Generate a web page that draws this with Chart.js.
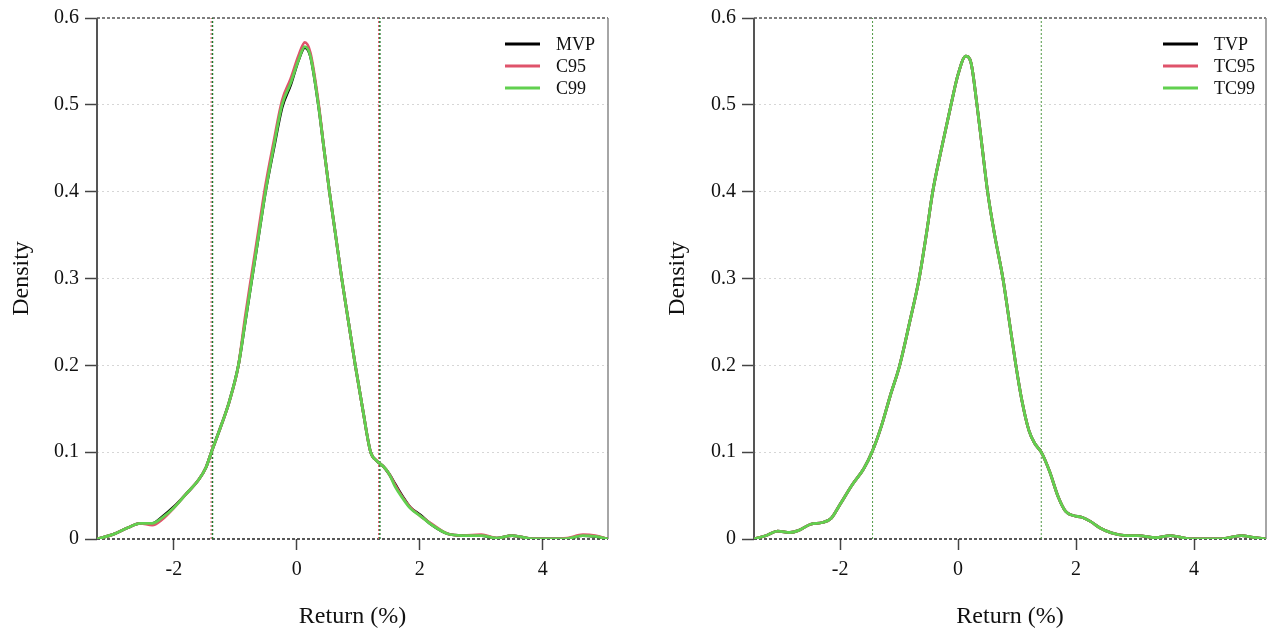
<!DOCTYPE html>
<html>
<head>
<meta charset="utf-8">
<script src="https://cdn.jsdelivr.net/npm/chart.js@4.4.1/dist/chart.umd.min.js"></script>
<style>
  html, body { margin: 0; padding: 0; background: #fff; }
  #left { position: absolute; left: 0; top: 0; }
  #right { position: absolute; left: 640px; top: 0; }
</style>
</head>
<body>
<canvas id="left" width="640" height="638"></canvas>
<canvas id="right" width="637" height="638"></canvas>
<script>
// ---- data ----
const xTicks = [-2, 0, 2, 4];
const yTicks = [0, 0.1, 0.2, 0.3, 0.4, 0.5, 0.6];

// left panel: MVP / C95 / C99
const leftX = [-3.25, -3.0, -2.75, -2.55, -2.35, -2.2, -2.0, -1.8, -1.6, -1.48, -1.39, -1.25, -1.1, -0.95, -0.84, -0.73, -0.62, -0.51, -0.38, -0.24, -0.1, 0.03, 0.13, 0.22, 0.35, 0.44, 0.53, 0.63, 0.73, 0.84, 0.95, 1.07, 1.2, 1.3, 1.4, 1.5, 1.6, 1.72, 1.85, 2.0, 2.2, 2.45, 2.7, 3.0, 3.25, 3.5, 3.8, 4.1, 4.4, 4.65, 4.85, 5.06];
const c99Y = [0, 0.005, 0.013, 0.018, 0.018, 0.024, 0.036, 0.052, 0.068, 0.082, 0.1, 0.127, 0.158, 0.2, 0.25, 0.3, 0.35, 0.4, 0.45, 0.5, 0.525, 0.552, 0.567, 0.556, 0.5, 0.45, 0.4, 0.35, 0.3, 0.25, 0.2, 0.15, 0.1, 0.09, 0.084, 0.075, 0.06, 0.047, 0.035, 0.027, 0.016, 0.006, 0.004, 0.004, 0.001, 0.004, 0.0005, 0, 0.0005, 0.004, 0.003, 0];
const c95Y = [0, 0.005, 0.013, 0.018, 0.016, 0.022, 0.036, 0.052, 0.068, 0.082, 0.1, 0.127, 0.158, 0.2, 0.256, 0.307, 0.357, 0.407, 0.456, 0.505, 0.53, 0.557, 0.572, 0.56, 0.503, 0.45, 0.4, 0.35, 0.3, 0.25, 0.2, 0.15, 0.1, 0.09, 0.084, 0.075, 0.062, 0.048, 0.036, 0.027, 0.017, 0.006, 0.004, 0.005, 0.001, 0.004, 0.0005, 0, 0.001, 0.005, 0.004, 0];
const mvpY = [0, 0.005, 0.013, 0.018, 0.018, 0.025, 0.037, 0.052, 0.068, 0.082, 0.1, 0.127, 0.158, 0.2, 0.25, 0.3, 0.35, 0.4, 0.448, 0.497, 0.523, 0.552, 0.566, 0.556, 0.5, 0.45, 0.4, 0.35, 0.3, 0.25, 0.2, 0.15, 0.1, 0.09, 0.084, 0.075, 0.063, 0.049, 0.036, 0.028, 0.016, 0.006, 0.004, 0.004, 0.001, 0.004, 0.0005, 0, 0.0005, 0.004, 0.003, 0];
const leftVaR95 = [-1.395, 1.329];
const leftVaR99 = [-1.372, 1.35];

// right panel: TVP / TC95 / TC99 (curves coincide)
const rightX = [-3.46, -3.25, -3.06, -2.85, -2.7, -2.5, -2.3, -2.15, -2.0, -1.8, -1.6, -1.46, -1.3, -1.15, -0.99, -0.82, -0.66, -0.54, -0.43, -0.28, -0.12, 0.0, 0.13, 0.22, 0.32, 0.41, 0.5, 0.62, 0.76, 0.87, 0.98, 1.08, 1.2, 1.3, 1.41, 1.55, 1.7, 1.82, 1.95, 2.1, 2.25, 2.4, 2.6, 2.85, 3.05, 3.35, 3.6, 3.9, 4.2, 4.5, 4.8, 5.0, 5.22];
const tc99Y = [0, 0.004, 0.009, 0.0075, 0.01, 0.017, 0.019, 0.024, 0.04, 0.062, 0.081, 0.1, 0.13, 0.165, 0.2, 0.25, 0.3, 0.35, 0.4, 0.45, 0.5, 0.535, 0.556, 0.548, 0.5, 0.45, 0.4, 0.35, 0.3, 0.25, 0.2, 0.16, 0.125, 0.11, 0.1, 0.078, 0.048, 0.032, 0.027, 0.025, 0.02, 0.013, 0.007, 0.004, 0.004, 0.0015, 0.004, 0.0005, 0, 0.0005, 0.004, 0.002, 0];
const tc95Y = tc99Y.slice();
const tvpY = tc99Y.slice();
const rightVaR = [-1.45, 1.41];

const FONT = '"Liberation Serif", "Times New Roman", serif';
Chart.defaults.font.family = FONT;
Chart.defaults.color = '#111';

const BLACK = '#000000', PINK = '#DF536B', GREEN = '#61D04F';

function pts(xs, ys) {
    return xs.map((x, i) => ({ x: x, y: ys[i] }));
}

function curve(label, xs, ys, color, order) {
    return {
        label, data: pts(xs, ys), borderColor: color, backgroundColor: color,
        borderWidth: 2.8, pointRadius: 0, cubicInterpolationMode: 'monotone', order
    };
}

function vline(v, color, width, order) {
    return {
        label: '', guide: true, data: [{ x: v, y: 0 }, { x: v, y: 0.6 }],
        borderColor: color, borderWidth: width, borderDash: [2, 2], pointRadius: 0, order: order
    };
}

// box around the plot: dashed top/bottom, solid sides
const framePlugin = {
    id: 'frame',
    beforeDatasetsDraw(chart) {
        const { ctx, chartArea: a } = chart;
        const seg = (x1, y1, x2, y2) => { ctx.beginPath(); ctx.moveTo(x1, y1); ctx.lineTo(x2, y2); ctx.stroke(); };
        ctx.save();
        ctx.lineWidth = 1.5;
        ctx.setLineDash([3, 2]);
        ctx.strokeStyle = '#555';
        seg(a.left, a.top, a.right, a.top);
        ctx.strokeStyle = '#222';
        seg(a.left, a.bottom, a.right, a.bottom);
        ctx.setLineDash([]);
        ctx.strokeStyle = '#888';
        seg(a.right, a.top, a.right, a.bottom);
        ctx.lineWidth = 2;
        ctx.strokeStyle = '#555';
        seg(a.left, a.top, a.left, a.bottom);
        ctx.restore();
    }
};

const legendPlugin = {
    id: 'lineLegend',
    afterDraw(chart) {
        const { ctx, chartArea: a } = chart;
        const items = chart.data.datasets.filter(d => !d.guide);
        ctx.save();
        ctx.font = '18px ' + FONT;
        ctx.textBaseline = 'middle';
        ctx.fillStyle = '#111';
        items.forEach((d, i) => {
            const y = 44 + i * 22;
            ctx.strokeStyle = d.borderColor;
            ctx.lineWidth = 3;
            ctx.beginPath();
            ctx.moveTo(a.right - 103, y);
            ctx.lineTo(a.right - 68, y);
            ctx.stroke();
            ctx.fillText(d.label, a.right - 52, y + 1);
        });
        ctx.restore();
    }
};

function makeChart(id, datasets, xMin, xMax, yAxisWidth, rightPad, titlePad) {
    return new Chart(document.getElementById(id), {
        type: 'line',
        data: { datasets },
        options: {
            responsive: false,
            animation: false,
            layout: { padding: { top: 17, right: rightPad, left: 0, bottom: 0 } },
            plugins: { legend: { display: false }, tooltip: { enabled: false } },
            scales: {
                x: {
                    type: 'linear', min: xMin, max: xMax,
                    afterBuildTicks: s => { s.ticks = xTicks.map(v => ({ value: v })); },
                    grid: { drawOnChartArea: false, tickLength: 11, tickColor: '#444', tickWidth: 1.5 },
                    border: { display: false },
                    ticks: { font: { size: 20 }, padding: 8, maxRotation: 0 },
                    title: { display: true, text: 'Return (%)', font: { size: 24 }, padding: { top: 0, bottom: 7 } },
                    afterFit: s => { s.height = 99; }
                },
                y: {
                    min: 0, max: 0.6,
                    afterBuildTicks: s => { s.ticks = yTicks.map(v => ({ value: v })); },
                    ticks: { font: { size: 20 }, padding: 6, callback: v => v === 0 ? '0' : v.toFixed(1) },
                    grid: {
                        color: c => (c.tick && (c.tick.value < 1e-6 || c.tick.value > 0.599)) ? 'rgba(0,0,0,0)' : '#d6d6d6',
                        lineWidth: 1, tickLength: 12, tickColor: '#444', tickWidth: 1.5
                    },
                    border: { display: false, dash: [2, 3] },
                    title: { display: true, text: 'Density', font: { size: 24 }, padding: { top: titlePad, bottom: 0 } },
                    afterFit: s => { s.width = yAxisWidth; }
                }
            }
        },
        plugins: [framePlugin, legendPlugin]
    });
}

makeChart('left', [
    curve('MVP', leftX, mvpY, BLACK, 3),
    curve('C95', leftX, c95Y, PINK, 2),
    curve('C99', leftX, c99Y, GREEN, 1),
    vline(leftVaR95[0], PINK, 1, 11), vline(leftVaR95[1], PINK, 1, 11),
    vline(leftVaR99[0], '#1f7a2a', 1.5, 10), vline(leftVaR99[1], '#1f7a2a', 1.5, 10)
], -3.25, 5.06, 97, 32, 7.6);

makeChart('right', [
    curve('TVP', rightX, tvpY, BLACK, 3),
    curve('TC95', rightX, tc95Y, PINK, 2),
    curve('TC99', rightX, tc99Y, GREEN, 1),
    vline(rightVaR[0], '#4f9a45', 1, 10), vline(rightVaR[1], '#4f9a45', 1, 10)
], -3.46, 5.22, 114, 11, 23.6);
</script>
</body>
</html>
